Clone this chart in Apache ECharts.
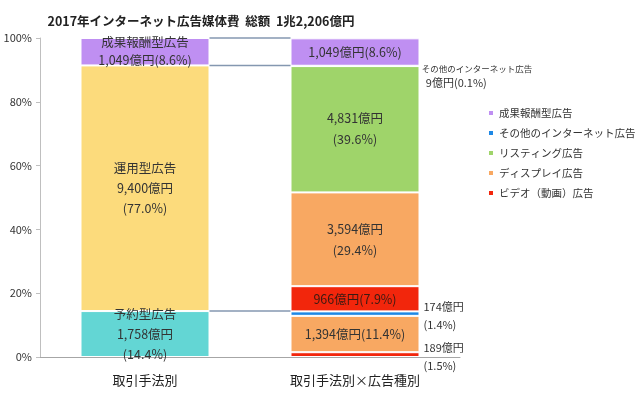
<!DOCTYPE html>
<html><head><meta charset="utf-8">
<script src="https://cdn.jsdelivr.net/npm/echarts@6/dist/echarts.min.js"></script>
<style>html,body{margin:0;padding:0;background:#fff}#c{width:640px;height:405px}</style>
</head><body><div id="c"></div>
<script>
const titleText = '2017年インターネット広告媒体費  総額  1兆2,206億円';
const categories = ['取引手法別', '取引手法別×広告種別'];
const yTicks = [0, 20, 40, 60, 80, 100];

const leftNames = ['予約型広告', '運用型広告', '成果報酬型広告'];
const leftAmounts = [1758, 9400, 1049];
const leftPct = [14.4, 77.0, 8.6];

const rightNames = ['ビデオ（動画）広告', 'ディスプレイ広告', 'その他のインターネット広告', 'ビデオ（動画）広告', 'ディスプレイ広告', 'リスティング広告', 'その他のインターネット広告', '成果報酬型広告'];
const rightAmounts = [189, 1394, 174, 966, 3594, 4831, 9, 1049];
const rightPct = [1.5, 11.4, 1.4, 7.9, 29.4, 39.6, 0.1, 8.6];

const legendNames = ['成果報酬型広告', 'その他のインターネット広告', 'リスティング広告', 'ディスプレイ広告', 'ビデオ（動画）広告'];

// styles
const FONT = '"Noto Sans CJK JP", "Noto Sans", sans-serif';
const colorMap = {
  '予約型広告': '#63d6d4',
  '運用型広告': '#fcdb7c',
  '成果報酬型広告': '#bf8ff2',
  'ビデオ（動画）広告': '#f2260c',
  'ディスプレイ広告': '#f8a862',
  'その他のインターネット広告': '#1e88e5',
  'リスティング広告': '#9fd46a'
};
const BAR_W = 129;
const fmtAmt = v => v.toLocaleString('en-US') + '億円';
const fmtPct = v => '(' + v.toFixed(1) + '%)';

const leftLabelKinds = ['name3', 'name3', 'name2'];
const rightLabelKinds = ['out2', 'one', 'out2', 'one', 'two', 'two', 'other', 'one'];

function makeLabel(kind, name, amt, pct) {
  const base = {show: true, fontFamily: FONT, fontSize: 12.5, color: '#333'};
  if (kind === 'name3') return Object.assign(base, {position: 'inside', lineHeight: 20, formatter: name + '\n' + fmtAmt(amt) + '\n' + fmtPct(pct)});
  if (kind === 'name2') return Object.assign(base, {position: 'inside', lineHeight: 18, formatter: name + '\n' + fmtAmt(amt) + fmtPct(pct)});
  if (kind === 'one') return Object.assign(base, {position: 'inside', formatter: fmtAmt(amt) + fmtPct(pct)});
  if (kind === 'two') return Object.assign(base, {position: 'inside', lineHeight: 21, formatter: fmtAmt(amt) + '\n' + fmtPct(pct)});
  if (kind === 'out2') return Object.assign(base, {position: 'right', distance: 4, fontSize: 11, lineHeight: 18, offset: [0, 2], formatter: fmtAmt(amt) + '\n' + fmtPct(pct)});
  if (kind === 'other') return Object.assign(base, {position: 'right', distance: 2, offset: [0, 10],
    formatter: '{a|' + name + '}\n{b|' + fmtAmt(amt) + '(' + pct.toFixed(1) + '%)}',
    rich: {a: {fontFamily: FONT, fontSize: 8.5, lineHeight: 13, color: '#333'}, b: {fontFamily: FONT, fontSize: 11, lineHeight: 14, color: '#333', padding: [0, 0, 0, 4]}}});
}

const series = [];
leftNames.forEach((n, i) => {
  series.push({
    name: n, type: 'bar', stack: 'all', barWidth: BAR_W,
    data: [leftPct[i], '-'],
    itemStyle: {color: colorMap[n], borderColor: '#fff', borderWidth: 1},
    label: makeLabel(leftLabelKinds[i], n, leftAmounts[i], leftPct[i])
  });
});
rightNames.forEach((n, i) => {
  const lab = makeLabel(rightLabelKinds[i], n, rightAmounts[i], rightPct[i]);
  if (n === 'ビデオ（動画）広告' && rightLabelKinds[i] === 'one') lab.color = '#3b1a12';
  series.push({
    name: n, type: 'bar', stack: 'all', barWidth: BAR_W,
    data: ['-', rightPct[i]],
    itemStyle: {color: colorMap[n], borderColor: '#fff', borderWidth: 1},
    label: lab
  });
});

// connector levels derived from the left bar's cumulative boundaries
const connectorLevels = [];
leftPct.reduce((acc, v) => { const s = Math.round((acc + v) * 10) / 10; connectorLevels.push(s); return s; }, 0);
series.push({
  type: 'custom', silent: true, z: 5,
  data: connectorLevels.map(v => [0, v]),
  encode: {x: 0, y: 1},
  renderItem: function (params, api) {
    const p = api.coord([api.value(0), api.value(1)]);
    const band = api.size([1, 0])[0];
    return {type: 'line', shape: {x1: p[0] + BAR_W / 2, y1: p[1], x2: p[0] + band - BAR_W / 2, y2: p[1]},
      style: {stroke: '#8497b0', lineWidth: 1.5}};
  }
});

const chart = echarts.init(document.getElementById('c'), null, {renderer: 'canvas'});
chart.setOption({
  backgroundColor: '#fff',
  animation: false,
  title: {text: titleText, left: 196, top: 10, textAlign: 'center',
    textStyle: {fontFamily: FONT, fontSize: 12.5, fontWeight: 'bold', color: '#222'}},
  legend: {data: legendNames, orient: 'vertical', left: 482, top: 101, itemGap: 6,
    icon: 'rect', itemWidth: 6, itemHeight: 6,
    textStyle: {fontFamily: FONT, fontSize: 10.5, color: '#333', lineHeight: 14}},
  grid: {left: 40, right: 180, top: 38, bottom: 48, containLabel: false},
  xAxis: {type: 'category', data: categories,
    axisLine: {lineStyle: {color: '#a6a6a6', width: 1}}, axisTick: {show: false},
    axisLabel: {fontFamily: FONT, fontSize: 13, color: '#222', margin: 17}},
  yAxis: {type: 'value', min: yTicks[0], max: yTicks[yTicks.length - 1], interval: 20,
    axisLine: {show: true, lineStyle: {color: '#bfbfbf'}},
    axisTick: {show: true, length: 4, lineStyle: {color: '#bfbfbf'}},
    splitLine: {show: false},
    axisLabel: {formatter: '{value}%', fontFamily: FONT, fontSize: 11, color: '#333', margin: 8}},
  series: series
});
</script></body></html>
